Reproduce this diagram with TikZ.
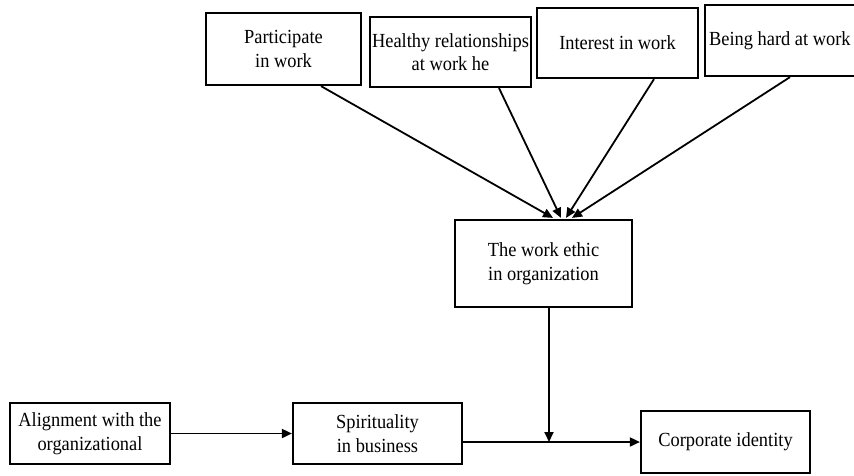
\documentclass[tikz,border=0pt]{standalone}
\usepackage{fontspec}
\setmainfont{Liberation Serif}[FakeStretch=0.92]
\usetikzlibrary{arrows.meta,calc}
\tikzset{
  txt/.style={inner sep=0pt, align=center, font=\fontsize{20}{23.5}\selectfont},
  box/.style={txt, draw, line width=2.2pt, rectangle},
  conn/.style={line width=1.8pt},
  arr/.style={conn, -{Triangle[length=10pt,width=9pt]}}
}
\begin{document}
\begin{tikzpicture}[x=1pt,y=-1pt]
\useasboundingbox (0,0) rectangle (854,475);
\node[box, minimum width=155pt, minimum height=72pt] (p1) at (283.5,49) {Participate\\in work};
\node[box, minimum width=161pt, minimum height=70pt] (p2) at (450.5,52) {Healthy relationships\\at work he};
\node[box, minimum width=161pt, minimum height=70pt] (p3) at (617.5,43) {Interest in work};
\node[box, minimum width=160pt, minimum height=71pt] (p4) at (785,40.5) {};
\node[txt, anchor=west] (p4t) at ([xshift=5pt]p4.west) {Being hard at work};
\node[box, minimum width=177pt, minimum height=87pt] (we) at (543.5,263.5) {The work ethic\\in organization};
\node[box, minimum width=160pt, minimum height=61pt] (al) at (90,433.5) {Alignment with the\\organizational};
\node[box, minimum width=169pt, minimum height=61pt] (sp) at (377.5,433.5) {Spirituality\\in business};
\node[box, minimum width=169pt, minimum height=62pt] (co) at (725.5,442) {Corporate identity};
\coordinate (j) at (549,442);
\draw[arr] ([xshift=37.5pt]p1.south) -- ([xshift=9.5pt,yshift=1pt]we.north);
\draw[arr] ([xshift=48.5pt]p2.south) -- ([xshift=17.5pt,yshift=1pt]we.north);
\draw[arr] ([xshift=36.5pt]p3.south) -- ([xshift=22.5pt,yshift=1pt]we.north);
\draw[arr] ([xshift=5pt]p4.south) -- ([xshift=28.5pt,yshift=1pt]we.north);
\draw[arr] (we.south -| j) -- (j);
\draw[arr] (al) -- (sp);
\draw[arr] (sp.east |- co) -- (co.west);
\end{tikzpicture}
\end{document}
